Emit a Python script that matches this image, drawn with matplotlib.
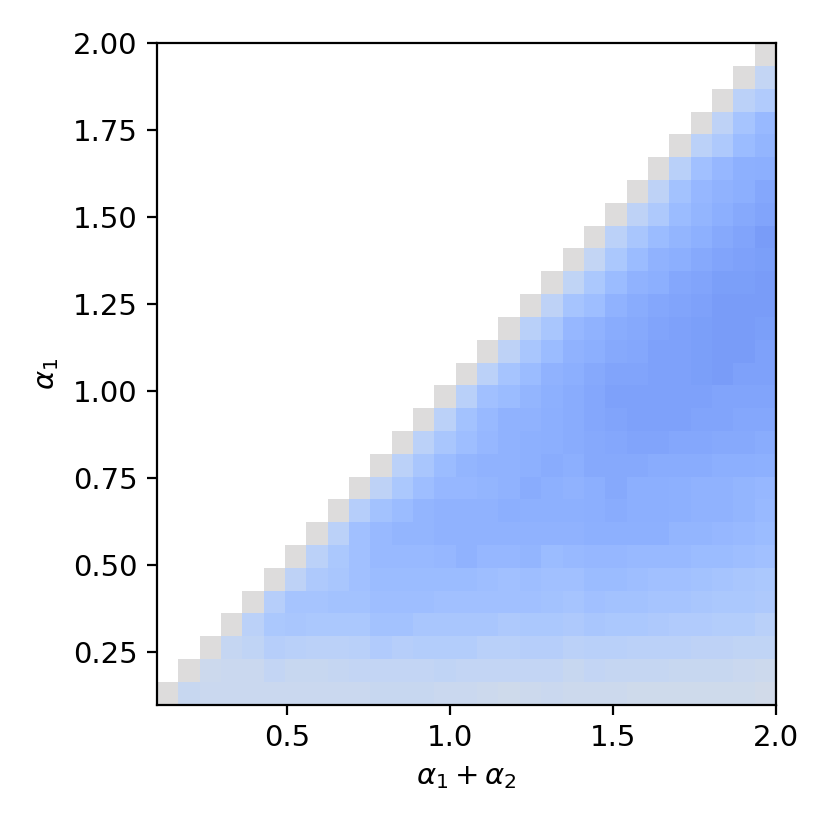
import numpy as np
import matplotlib
matplotlib.use("Agg")
import matplotlib.pyplot as plt

# grid edges for alpha1+alpha2 (x) and alpha1 (y)
edges = np.linspace(0.1, 2.0, 30)

# values, row j of alpha1 holds columns j+1 .. 28
# (diagonal is 0, upper triangle is empty)
lower = [
    [-0.10, -0.09, -0.09, -0.09, -0.09, -0.09, -0.09, -0.09, -0.09,
     -0.10, -0.10, -0.10, -0.09, -0.09, -0.08, -0.07, -0.08, -0.09, -0.08,
     -0.08, -0.08, -0.07, -0.07, -0.07, -0.07, -0.07, -0.07, -0.06],
    [-0.08, -0.09, -0.09, -0.12, -0.10, -0.10, -0.11, -0.12,
     -0.12, -0.12, -0.12, -0.13, -0.12, -0.12, -0.12, -0.12, -0.12, -0.10,
     -0.12, -0.11, -0.11, -0.11, -0.10, -0.10, -0.10, -0.09, -0.08],
    [-0.11, -0.13, -0.17, -0.16, -0.15, -0.15, -0.16,
     -0.19, -0.17, -0.18, -0.18, -0.18, -0.16, -0.16, -0.17, -0.17, -0.15,
     -0.16, -0.16, -0.15, -0.15, -0.15, -0.14, -0.14, -0.13, -0.13],
    [-0.15, -0.21, -0.22, -0.21, -0.21, -0.21,
     -0.24, -0.24, -0.22, -0.22, -0.22, -0.22, -0.20, -0.21, -0.21, -0.20,
     -0.22, -0.21, -0.21, -0.20, -0.19, -0.19, -0.18, -0.18, -0.16],
    [-0.17, -0.23, -0.23, -0.24, -0.24,
     -0.26, -0.26, -0.26, -0.25, -0.25, -0.25, -0.25, -0.25, -0.24, -0.23,
     -0.25, -0.24, -0.24, -0.23, -0.23, -0.22, -0.21, -0.21, -0.20],
    [-0.14, -0.20, -0.22, -0.25,
     -0.27, -0.27, -0.27, -0.27, -0.27, -0.26, -0.25, -0.26, -0.25, -0.25,
     -0.27, -0.27, -0.26, -0.25, -0.25, -0.24, -0.23, -0.22, -0.21],
    [-0.15, -0.21, -0.25,
     -0.28, -0.28, -0.28, -0.29, -0.31, -0.29, -0.29, -0.30, -0.27, -0.28,
     -0.29, -0.29, -0.28, -0.28, -0.28, -0.27, -0.27, -0.26, -0.25],
    [-0.15, -0.25,
     -0.28, -0.30, -0.30, -0.31, -0.31, -0.31, -0.31, -0.31, -0.31, -0.31,
     -0.32, -0.32, -0.32, -0.32, -0.30, -0.30, -0.29, -0.28, -0.27],
    [-0.17,
     -0.24, -0.27, -0.30, -0.31, -0.31, -0.31, -0.33, -0.32, -0.32, -0.32,
     -0.33, -0.34, -0.33, -0.33, -0.32, -0.31, -0.31, -0.30, -0.28],
    [-0.14, -0.21, -0.26, -0.29, -0.29, -0.30, -0.31, -0.34, -0.32, -0.31,
     -0.33, -0.35, -0.33, -0.33, -0.32, -0.31, -0.31, -0.30, -0.29],
    [-0.15, -0.22, -0.27, -0.30, -0.31, -0.31, -0.32, -0.34, -0.33,
     -0.35, -0.35, -0.35, -0.34, -0.34, -0.34, -0.33, -0.33, -0.32],
    [-0.15, -0.22, -0.26, -0.29, -0.31, -0.32, -0.33, -0.34,
     -0.35, -0.36, -0.37, -0.37, -0.36, -0.36, -0.35, -0.35, -0.34],
    [-0.15, -0.24, -0.28, -0.31, -0.31, -0.33, -0.34,
     -0.36, -0.37, -0.38, -0.38, -0.38, -0.37, -0.37, -0.36, -0.36],
    [-0.16, -0.25, -0.27, -0.30, -0.32, -0.34,
     -0.36, -0.38, -0.38, -0.38, -0.38, -0.38, -0.37, -0.37, -0.37],
    [-0.15, -0.23, -0.27, -0.31, -0.33,
     -0.35, -0.37, -0.37, -0.38, -0.38, -0.39, -0.40, -0.38, -0.38],
    [-0.14, -0.22, -0.27, -0.31,
     -0.33, -0.35, -0.36, -0.38, -0.38, -0.39, -0.40, -0.40, -0.38],
    [-0.16, -0.22, -0.29,
     -0.31, -0.34, -0.35, -0.37, -0.38, -0.39, -0.40, -0.40, -0.39],
    [-0.14, -0.23,
     -0.26, -0.31, -0.34, -0.36, -0.37, -0.38, -0.40, -0.40, -0.40],
    [-0.13,
     -0.21, -0.27, -0.31, -0.33, -0.36, -0.37, -0.39, -0.39, -0.40],
    [-0.12, -0.21, -0.27, -0.31, -0.33, -0.35, -0.37, -0.38, -0.39],
    [-0.15, -0.22, -0.27, -0.30, -0.32, -0.35, -0.37, -0.40],
    [-0.14, -0.20, -0.27, -0.30, -0.33, -0.35, -0.37],
    [-0.14, -0.24, -0.29, -0.31, -0.33, -0.36],
    [-0.16, -0.25, -0.29, -0.32, -0.33],
    [-0.15, -0.20, -0.27, -0.30],
    [-0.14, -0.23, -0.28],
    [-0.15, -0.19],
    [-0.12],
    [],
]

n = len(lower)
Z = np.full((n, n), np.nan)
for j, row in enumerate(lower):
    Z[j, j] = 0.0
    Z[j, j + 1:] = row
Z = np.ma.masked_invalid(Z)

fig = plt.figure(figsize=(4.15, 4.15), dpi=200)
ax = fig.add_axes([0.189, 0.151, 0.746, 0.797])
ax.pcolormesh(edges, edges, Z, cmap='coolwarm', vmin=-0.65, vmax=0.65,
              antialiased=True, linewidth=0)
ax.set_xlim(0.1, 2.0)
ax.set_ylim(0.1, 2.0)
ax.set_xticks([0.5, 1.0, 1.5, 2.0])
ax.set_yticks([0.25, 0.5, 0.75, 1.0, 1.25, 1.5, 1.75, 2.0])
ax.set_yticklabels(['0.25', '0.50', '0.75', '1.00', '1.25', '1.50', '1.75', '2.00'])
ax.tick_params(labelsize=10.5)
ax.set_xlabel(r'$\alpha_1 + \alpha_2$', fontsize=10.5)
ax.set_ylabel(r'$\alpha_1$', fontsize=10.5)

fig.savefig('out.png', dpi=200)
